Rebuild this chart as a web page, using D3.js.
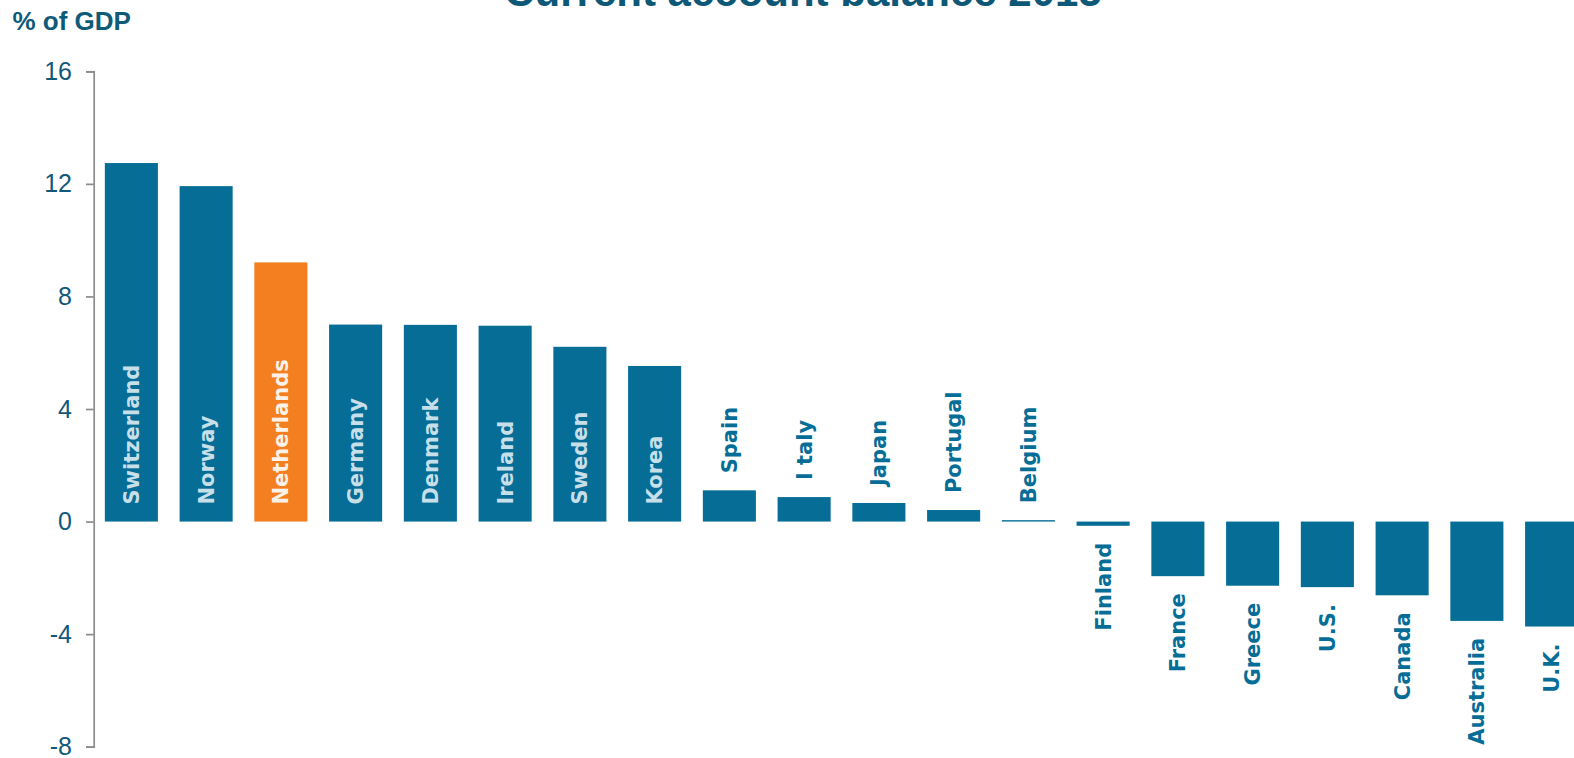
<!DOCTYPE html>
<html>
<head>
<meta charset="utf-8">
<script src="https://cdn.jsdelivr.net/npm/d3@7"></script>
<style>
  html, body { margin: 0; padding: 0; background: #ffffff; }
  svg { display: block; }
</style>
</head>
<body>
<svg id="chart" width="1574" height="758"></svg>
<script>
const countries = ["Switzerland","Norway","Netherlands","Germany","Denmark","Ireland","Sweden","Korea","Spain","I taly","Japan","Portugal","Belgium","Finland","France","Greece","U.S.","Canada","Australia","U.K."];
const values = [12.74, 11.92, 9.21, 7.0, 6.99, 6.96, 6.21, 5.53, 1.11, 0.87, 0.66, 0.41, 0.05, -0.15, -1.94, -2.28, -2.33, -2.62, -3.53, -3.73];
const highlight = ["Netherlands"];
const yTicks = [-8, -4, 0, 4, 8, 12, 16];
const titleText = "Current account balance 2015";
const unitText = "% of GDP";

const svg = d3.select("#chart");
const blue = "#066e96";
const orange = "#f47f20";
const textBlue = "#11587a";

const x = d3.scaleBand().domain(countries).range([94, 1589]).paddingInner(0.29).paddingOuter(0.145);
const y = d3.scaleLinear().domain([-8, 16]).range([746.7, 71.3]);

// Title (partially cut off at the top)
svg.append("text")
  .attr("x", 803).attr("y", 5.5)
  .attr("text-anchor", "middle")
  .attr("font-family", "Liberation Sans, Arial, sans-serif")
  .attr("font-weight", "bold")
  .attr("font-size", 42)
  .attr("fill", "#0d5876")
  .text(titleText);

svg.append("text")
  .attr("x", 12.5).attr("y", 29.5)
  .attr("font-family", "Liberation Sans, Arial, sans-serif")
  .attr("font-weight", "bold")
  .attr("font-size", 26)
  .attr("fill", "#0e5a78")
  .text(unitText);

// Axis
const axis = svg.append("g")
  .attr("transform", "translate(93.7,0)")
  .call(d3.axisLeft(y).tickValues(yTicks).tickSize(7.7).tickPadding(14).tickFormat(d3.format("d")));
axis.select(".domain").attr("stroke", "#8c8c8c").attr("stroke-width", 1.7);
axis.selectAll(".tick line").attr("stroke", "#8c8c8c").attr("stroke-width", 1.7);
axis.selectAll(".tick text")
  .attr("font-family", "Liberation Sans, Arial, sans-serif")
  .attr("font-size", 25)
  .attr("fill", textBlue)
  .text(d => d < 0 ? "-" + Math.abs(d) : d);

const data = countries.map((c, i) => ({c, v: values[i]}));

svg.append("g").selectAll("rect").data(data).join("rect")
  .attr("x", d => x(d.c))
  .attr("width", x.bandwidth())
  .attr("y", d => Math.min(y(d.v), y(0)))
  .attr("height", d => Math.abs(y(d.v) - y(0)))
  .attr("fill", d => highlight.includes(d.c) ? orange : blue);

const gap = 17;
svg.append("g").selectAll("text").data(data).join("text")
  .attr("transform", d => {
    const cx = x(d.c) + x.bandwidth() / 2;
    let ty;
    if (d.v > 5) ty = y(0) - gap;
    else if (d.v >= 0) ty = y(d.v) - gap;
    else ty = y(d.v) + gap;
    return `translate(${cx},${ty}) rotate(-90)`;
  })
  .attr("dy", "0.36em")
  .attr("text-anchor", d => d.v >= 0 ? "start" : "end")
  .attr("font-family", "DejaVu Sans, sans-serif")
  .attr("font-weight", "bold")
  .attr("font-size", 21)
  .attr("fill", d => d.v > 5 ? (highlight.includes(d.c) ? "#fbf3ea" : "#c6dfe9") : blue)
  .text(d => d.c);
</script>
</body>
</html>
